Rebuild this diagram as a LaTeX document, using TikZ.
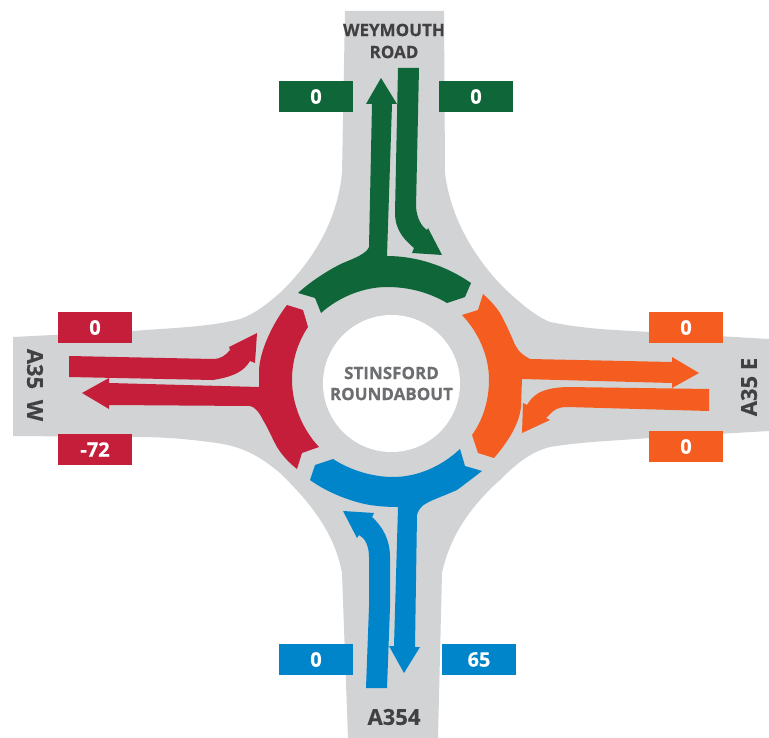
\documentclass[tikz,border=0pt]{standalone}
\usepackage{fontspec}
\setmainfont{Open Sans}[BoldFeatures={FakeBold=0.4}]
\definecolor{roadc}{HTML}{D1D3D4}
\definecolor{greenc}{HTML}{0F6638}
\definecolor{redc}{HTML}{C41E3A}
\definecolor{orangec}{HTML}{F55D20}
\definecolor{bluec}{HTML}{0085CA}
\definecolor{darkc}{HTML}{414042}
\definecolor{midc}{HTML}{6D6E71}
\tikzset{
  valbox/.style={minimum width=74pt,minimum height=31pt,inner sep=0pt,text=white,font=\fontsize{20}{22}\selectfont\bfseries},
  roadlabel/.style={text=darkc,inner sep=0pt,align=center,font=\fontsize{17}{22}\selectfont\bfseries},
  bigroadlabel/.style={roadlabel,font=\fontsize{22}{24}\selectfont\bfseries},
  hub/.style={circle,fill=white,minimum size=137pt,inner sep=0pt,text=midc,align=center,font=\fontsize{17}{21}\selectfont\bfseries}
}
\begin{document}
\begin{tikzpicture}[x=1pt,y=-1pt]
        \useasboundingbox (0,0) rectangle (769,738);
        \fill[roadc]
          (345,11) -- (444,11) -- (445,173)
          .. controls (450,215) and (472,255) .. (503,287)
          .. controls (520,303) and (535,316) .. (550,322)
          .. controls (590,330) and (620,330) .. (649,332)
          -- (769,339) -- (769,431) -- (649,438)
          .. controls (610,441) and (580,442) .. (550,447)
          .. controls (530,452) and (515,465) .. (500,480)
          .. controls (472,505) and (450,535) .. (442,573)
          -- (438,738) -- (348,738) -- (342,573)
          .. controls (335,535) and (313,505) .. (280,473)
          .. controls (262,458) and (245,447) .. (217,443)
          .. controls (180,438) and (160,437) .. (133,437)
          -- (13,436) -- (13,337) -- (133,331)
          .. controls (170,328) and (210,327) .. (240,319)
          .. controls (255,314) and (270,302) .. (283,290)
          .. controls (318,255) and (338,215) .. (342,173)
          -- cycle;
        % green
        \fill[greenc] (298,293) -- (315,298) -- (321,313)
          .. controls (340,296) and (365,287) .. (387,287)
          .. controls (410,287) and (430,293) .. (447,303)
          -- (465,297) -- (471,283)
          .. controls (445,265) and (415,256) .. (387,256)
          -- (392,104) -- (397,104) -- (381,78) -- (366,104) -- (372,104) -- (369,247)
          .. controls (366,254) and (355,258) .. (343,263)
          .. controls (328,270) and (310,282) .. (298,293) -- cycle;
        \fill[greenc] (398,68) -- (419,68) -- (416,207)
          .. controls (417,218) and (421,226) .. (427,230)
          -- (428,228) -- (442,255) -- (412,253) -- (414,248)
          .. controls (402,238) and (395,228) .. (395,213) -- cycle;
        % red
        \fill[redc] (287,305) -- (303,310) -- (308,327)
          .. controls (298,342) and (292,360) .. (292,380)
          .. controls (292,405) and (303,430) .. (319,447)
          -- (302,453) -- (297,469)
          .. controls (288,462) and (282,455) .. (277,447)
          .. controls (272,438) and (268,428) .. (263,420)
          .. controls (259,412) and (255,407) .. (250,406)
          -- (109,405) -- (109,409) -- (82,393) -- (109,378) -- (109,383) -- (259,387)
          -- (259,370) .. controls (260,350) and (273,323) .. (287,305) -- cycle;
        \fill[redc] (69,356) -- (213,359)
          .. controls (221,359) and (226,355) .. (230,350)
          -- (229,347) -- (257,333) -- (255,363) -- (250,361)
          .. controls (245,369) and (238,376) .. (213,380)
          -- (69,377) -- cycle;
        % orange
        \fill[orangec] (483,294) .. controls (491,301) and (496,307) .. (500,313)
          .. controls (505,322) and (509,331) .. (513,340)
          .. controls (516,348) and (519,353) .. (530,359)
          -- (672,362) -- (672,357) -- (699,373) -- (672,388) -- (672,383) -- (522,379)
          -- (521,407) .. controls (519,425) and (507,443) .. (494,458)
          -- (478,453) -- (472,435)
          .. controls (483,420) and (489,400) .. (489,380)
          .. controls (489,355) and (478,332) .. (462,315)
          -- (478,310) -- cycle;
        \fill[orangec] (709,389) -- (709,411) -- (567,407)
          .. controls (558,407) and (554,410) .. (550,414)
          -- (546,418) -- (550,420) -- (522,433) -- (523,403) -- (527,405)
          .. controls (532,397) and (538,388) .. (567,387) -- cycle;
        % blue
        \fill[bluec] (460,449) -- (465,466) -- (482,471)
          .. controls (473,478) and (465,484) .. (457,490)
          .. controls (448,494) and (440,497) .. (433,500)
          .. controls (424,504) and (419,507) .. (417,515)
          -- (415,647) -- (420,647) -- (404,673) -- (389,646) -- (394,646) -- (398,507)
          .. controls (385,507) and (377,506) .. (370,505)
          .. controls (352,502) and (328,493) .. (310,480)
          -- (315,465) -- (333,459)
          .. controls (350,470) and (372,477) .. (393,477)
          .. controls (418,477) and (442,466) .. (460,449) -- cycle;
        \fill[bluec] (366,688) -- (387,688) -- (390,607) -- (390,557)
          .. controls (390,540) and (383,527) .. (372,517)
          -- (374,513) -- (343,511) -- (357,538) -- (359,535)
          .. controls (365,538) and (369,546) .. (369,557)
          -- (369,607) -- cycle;
        \draw (391.5,383.5) node[hub](hub){STINSFORD\\ROUNDABOUT};
        \draw (316,96.5) node[valbox,fill=greenc](gl){0};
        \draw (476,96.5) node[valbox,fill=greenc](gr){0};
        \draw (95,327.5) node[valbox,fill=redc](rt){0};
        \draw (95,449.5) node[valbox,fill=redc](rb){-72};
        \draw (686,327.5) node[valbox,fill=orangec](ot){0};
        \draw (686,446.5) node[valbox,fill=orangec](ob){0};
        \draw (316,659.5) node[valbox,fill=bluec](bl){0};
        \draw (479,659.5) node[valbox,fill=bluec](br){65};
        \draw (394,41) node[roadlabel](wey){WEYMOUTH\\ROAD};
        \draw (394,717) node[bigroadlabel](bot){A354};
        \draw (35,385) node[bigroadlabel,rotate=-90](west){A35 \hspace{5pt}W};
        \draw (749,387) node[bigroadlabel,rotate=90](east){A35 E};
      \end{tikzpicture}
\end{document}
